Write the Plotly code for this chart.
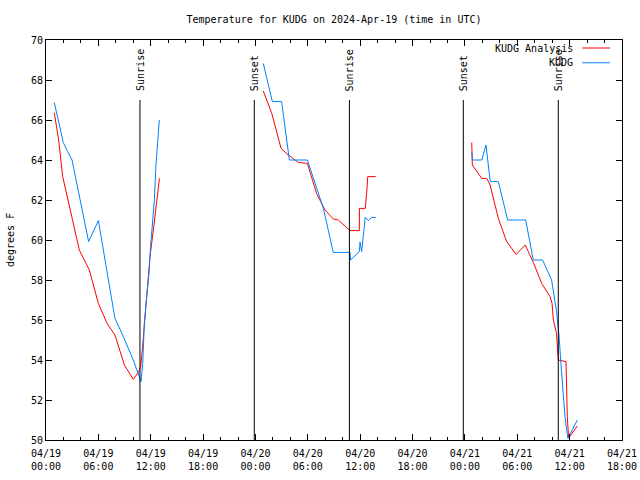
import plotly.graph_objects as go

# ---- data -------------------------------------------------------------
analysis_times = [
    "2024-04-19 00:57", "2024-04-19 01:27", "2024-04-19 01:55", "2024-04-19 02:45",
    "2024-04-19 03:49", "2024-04-19 04:58", "2024-04-19 06:00", "2024-04-19 07:00",
    "2024-04-19 07:54", "2024-04-19 08:59", "2024-04-19 10:00", "2024-04-19 10:36",
    "2024-04-19 10:51", "2024-04-19 11:04", "2024-04-19 11:28", "2024-04-19 11:55",
    "2024-04-19 12:18", "2024-04-19 12:36", "2024-04-19 13:00", None,
    "2024-04-20 00:54", "2024-04-20 01:52", "2024-04-20 02:56", "2024-04-20 03:46",
    "2024-04-20 04:54", "2024-04-20 05:57", "2024-04-20 07:00", "2024-04-20 07:58",
    "2024-04-20 08:55", "2024-04-20 09:30", "2024-04-20 10:50", "2024-04-20 11:54",
    "2024-04-20 11:55", "2024-04-20 12:35", "2024-04-20 12:45", "2024-04-20 12:52",
    "2024-04-20 13:47", None,
    "2024-04-21 00:47", "2024-04-21 00:51", "2024-04-21 01:56", "2024-04-21 02:30",
    "2024-04-21 02:53", "2024-04-21 03:50", "2024-04-21 04:47", "2024-04-21 05:52",
    "2024-04-21 06:55", "2024-04-21 07:50", "2024-04-21 08:48", "2024-04-21 09:45",
    "2024-04-21 09:59", "2024-04-21 10:08", "2024-04-21 10:30", "2024-04-21 10:35",
    "2024-04-21 10:42", "2024-04-21 11:35", "2024-04-21 11:44", "2024-04-21 11:53",
    "2024-04-21 12:53",
]
analysis_temps = [
    66.37, 65.0, 63.17, 61.5, 59.5, 58.5, 56.83, 55.83, 55.25, 53.75, 53.03, 53.4,
    53.67, 54.67, 56.83, 59.17, 60.5, 61.67, 63.08, None,
    67.45, 66.33, 64.58, 64.25, 63.88, 63.83, 62.33, 61.5, 61.05, 61.0, 60.47, 60.47,
    61.58, 61.58, 62.38, 63.17, 63.17, None,
    64.87, 63.75, 63.08, 63.08, 62.75, 61.08, 59.92, 59.28, 59.75, 58.88, 57.83, 57.17,
    56.83, 56.0, 55.33, 54.58, 54.0, 53.92, 51.17, 50.1, 50.7,
]

obs_times = [
    "2024-04-19 00:57", "2024-04-19 01:59", "2024-04-19 02:29", "2024-04-19 02:59",
    "2024-04-19 04:53", "2024-04-19 06:00", "2024-04-19 07:54", "2024-04-19 08:52",
    "2024-04-19 10:00", "2024-04-19 10:53", "2024-04-19 11:05", "2024-04-19 11:16",
    "2024-04-19 11:32", "2024-04-19 11:48", "2024-04-19 11:59", "2024-04-19 12:13",
    "2024-04-19 12:25", "2024-04-19 12:36", "2024-04-19 12:48", "2024-04-19 12:59", None,
    "2024-04-20 00:54", "2024-04-20 01:56", "2024-04-20 03:00", "2024-04-20 03:53",
    "2024-04-20 05:57", "2024-04-20 06:48", "2024-04-20 07:47", "2024-04-20 08:55",
    "2024-04-20 10:50", "2024-04-20 10:54", "2024-04-20 11:54", "2024-04-20 11:59",
    "2024-04-20 12:10", "2024-04-20 12:22", "2024-04-20 12:35", "2024-04-20 12:56",
    "2024-04-20 13:19", "2024-04-20 13:47", None,
    "2024-04-21 00:48", "2024-04-21 00:51", "2024-04-21 01:56", "2024-04-21 02:25",
    "2024-04-21 02:54", "2024-04-21 03:50", "2024-04-21 04:54", "2024-04-21 06:58",
    "2024-04-21 07:50", "2024-04-21 08:54", "2024-04-21 09:56", "2024-04-21 10:30",
    "2024-04-21 10:42", "2024-04-21 10:47", "2024-04-21 11:00", "2024-04-21 11:12",
    "2024-04-21 11:28", "2024-04-21 11:48", "2024-04-21 12:53",
]
obs_temps = [
    66.87, 64.87, 64.42, 64.0, 59.92, 60.97, 56.08, 55.17, 54.0, 52.92, 53.83, 55.83,
    57.17, 58.33, 59.67, 60.92, 62.0, 63.75, 65.0, 66.0, None,
    68.83, 66.92, 66.92, 64.0, 64.0, 62.92, 61.58, 59.38, 59.38, 59.0, 59.42, 59.9,
    59.42, 60.25, 61.13, 60.97, 61.13, 61.13, None,
    64.4, 64.0, 64.0, 64.75, 62.92, 62.92, 61.0, 61.0, 59.0, 59.0, 58.0, 56.42,
    55.58, 55.25, 53.83, 52.67, 51.17, 50.08, 51.0,
]

event_times = ["2024-04-19 10:46", "2024-04-19 23:52", "2024-04-20 10:46",
               "2024-04-20 23:49", "2024-04-21 10:42"]
event_labels = ["Sunrise", "Sunset", "Sunrise", "Sunset", "Sunrise"]

series_names = ["KUDG Analysis", "KUDG"]
series_colors = ["#ff0000", "#0080ff"]

x_range = ["2024-04-19 00:00", "2024-04-21 18:00"]
y_range = [50, 70]

# ---- figure -----------------------------------------------------------
FONT = "DejaVu Sans Mono"
fig = go.Figure()
fig.add_trace(go.Scatter(x=analysis_times, y=analysis_temps, mode="lines",
                         name=series_names[0], connectgaps=False,
                         line=dict(color=series_colors[0], width=1)))
fig.add_trace(go.Scatter(x=obs_times, y=obs_temps, mode="lines",
                         name=series_names[1], connectgaps=False,
                         line=dict(color=series_colors[1], width=1)))

shapes = []
annotations = []
for t, lab in zip(event_times, event_labels):
    shapes.append(dict(type="line", xref="x", yref="y", x0=t, x1=t, y0=50, y1=67.0,
                       line=dict(color="black", width=1)))
    annotations.append(dict(x=t, y=67.35, xref="x", yref="y", text=lab, textangle=-90,
                            showarrow=False, xanchor="center", yanchor="bottom",
                            font=dict(family=FONT, size=10, color="black")))

# legend (gnuplot style: text right aligned, sample on the right)
leg_y = [0.98, 0.943]
for name, col, yy in zip(series_names, series_colors, leg_y):
    annotations.append(dict(x=0.918, y=yy, xref="paper", yref="paper", text=name,
                            showarrow=False, xanchor="right", yanchor="middle",
                            font=dict(family=FONT, size=10, color="black")))
    shapes.append(dict(type="line", xref="paper", yref="paper", x0=0.931, x1=0.979,
                       y0=yy, y1=yy, line=dict(color=col, width=1)))

annotations.append(dict(x=-0.0625, y=0.5, xref="paper", yref="paper", text="degrees F",
                        textangle=-90, showarrow=False, xanchor="center", yanchor="middle",
                        font=dict(family=FONT, size=10, color="black")))

fig.update_layout(
    width=640, height=480,
    margin=dict(l=46, r=18, t=40, b=40, autoexpand=False),
    paper_bgcolor="white", plot_bgcolor="white",
    showlegend=False,
    font=dict(family=FONT, size=10, color="black"),
    title=dict(text="Temperature for KUDG on 2024-Apr-19 (time in UTC)",
               x=0.5, xref="paper", xanchor="center",
               y=1 - 19 / 480, yref="container", yanchor="middle",
               font=dict(family=FONT, size=10, color="black")),
    shapes=shapes, annotations=annotations,
)
fig.update_xaxes(type="date", range=x_range, dtick=6 * 3600 * 1000,
                 tick0="2024-04-19 00:00", tickformat="%m/%d<br>%H:%M",
                 showgrid=False, zeroline=False, showline=True, linecolor="black",
                 linewidth=1, mirror="allticks", ticks="inside", ticklen=6,
                 tickcolor="black", ticklabelstandoff=4,
                 minor=dict(dtick=2 * 3600 * 1000, ticks="inside", ticklen=3,
                            tickcolor="black", showgrid=False),
                 tickfont=dict(family=FONT, size=10, color="black"))
fig.update_yaxes(range=y_range, dtick=2, tick0=50,
                 showgrid=False, zeroline=False, showline=True, linecolor="black",
                 linewidth=1, mirror="allticks", ticks="inside", ticklen=6,
                 tickcolor="black",
                 tickfont=dict(family=FONT, size=10, color="black"))

fig.write_html(
    "out.html",
    config={"displayModeBar": False},
    post_script="document.body.style.margin='0';document.body.style.overflow='hidden';",
)
